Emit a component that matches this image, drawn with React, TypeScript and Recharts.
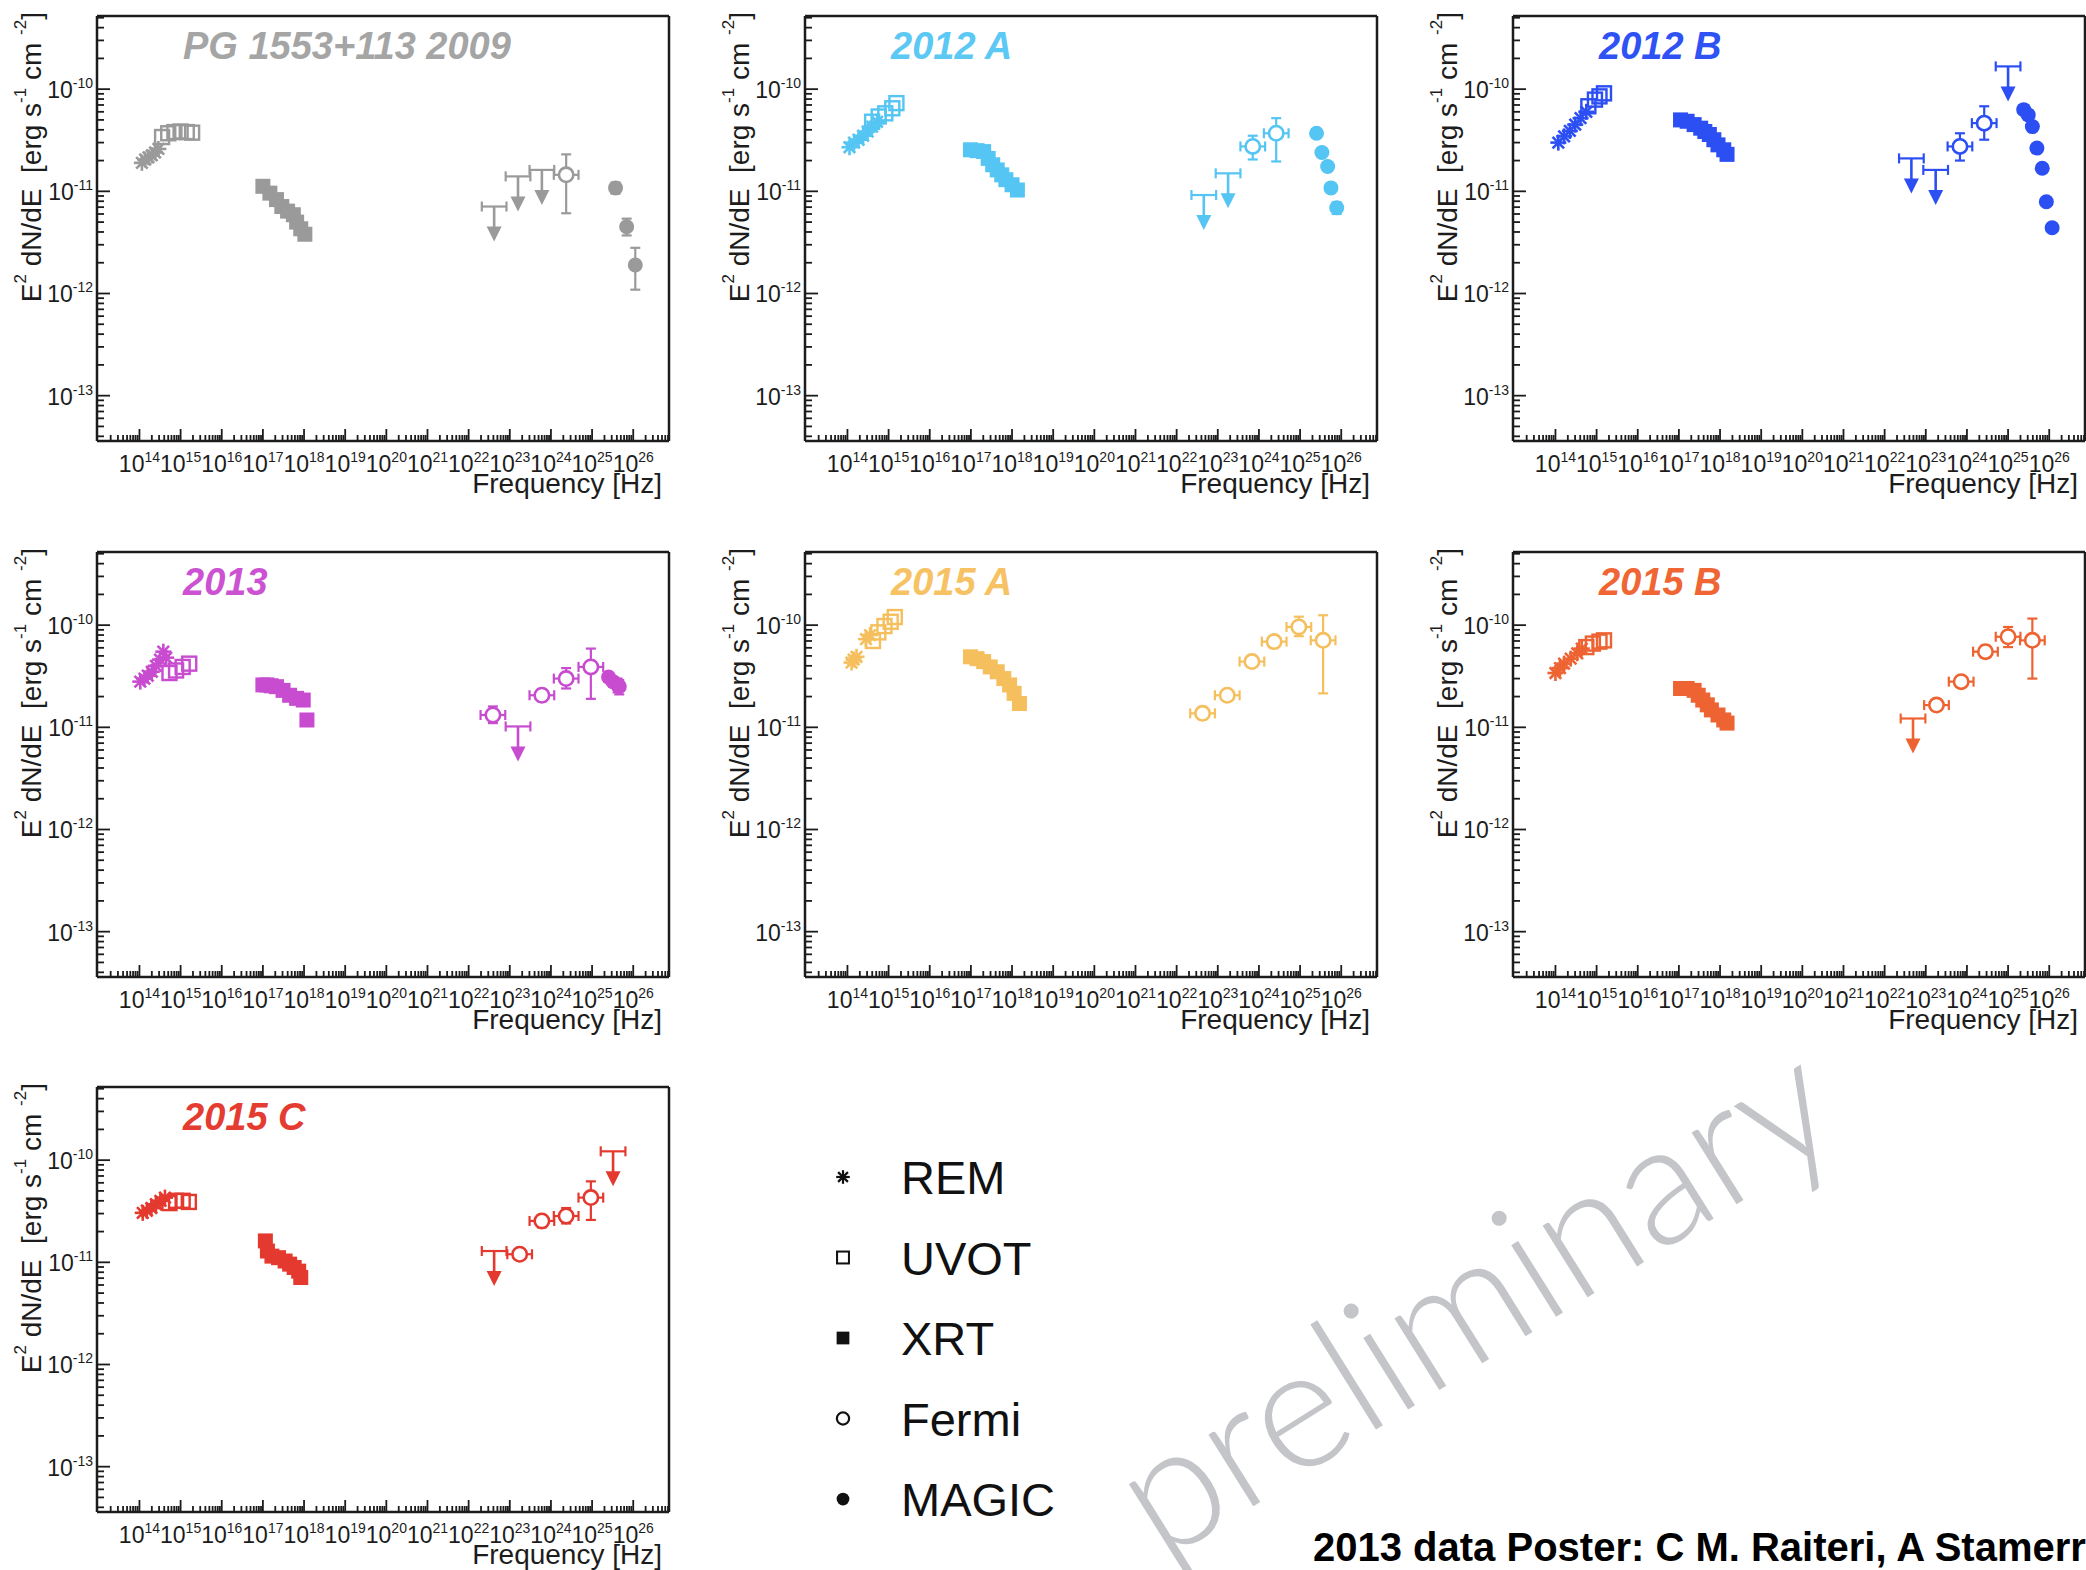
import React from 'react'
import { ScatterChart, Scatter, XAxis, YAxis, ErrorBar } from 'recharts'

// points are [log10(frequency / Hz), E^2 dN/dE]; error points add [lower, upper]
type P = [number, number]
type E = [number, number, number, number]

// ---- PG 1553+113 2009 ----
const rem2009: P[] = [[14.06, 1.9e-11], [14.14, 2.05e-11], [14.22, 2.15e-11], [14.3, 2.25e-11], [14.38, 2.4e-11], [14.46, 2.6e-11]]
const uvot2009: P[] = [[14.55, 3.4e-11], [14.7, 3.7e-11], [14.85, 3.8e-11], [15.0, 3.85e-11], [15.15, 3.8e-11], [15.28, 3.75e-11]]
const xrt2009: P[] = [[17.0, 1.12e-11], [17.17, 9.6e-12], [17.33, 8.3e-12], [17.46, 7.1e-12], [17.6, 6.4e-12], [17.74, 5.9e-12], [17.82, 5.0e-12], [17.92, 4.3e-12], [18.02, 3.8e-12]]
const fermi2009: E[] = [[24.37, 1.45e-11, 6.1e-12, 2.3e-11]]
const fermiUl2009: P[] = [[22.62, 7.1e-12], [23.2, 1.4e-11], [23.78, 1.62e-11]]
const magic2009: E[] = [[25.57, 1.08e-11, 0.95e-11, 1.22e-11], [25.84, 4.5e-12, 3.7e-12, 5.4e-12], [26.05, 1.9e-12, 1.09e-12, 2.8e-12]]

// ---- 2012 A ----
const rem2012a: P[] = [[14.05, 2.7e-11], [14.16, 3.0e-11], [14.27, 3.2e-11], [14.38, 3.5e-11], [14.49, 3.85e-11], [14.6, 4.3e-11], [14.72, 4.8e-11]]
const uvot2012a: P[] = [[14.6, 4.8e-11], [14.76, 5.4e-11], [14.92, 5.8e-11], [15.09, 6.5e-11], [15.19, 7.3e-11]]
const xrt2012a: P[] = [[16.99, 2.55e-11], [17.15, 2.5e-11], [17.31, 2.45e-11], [17.42, 2.1e-11], [17.53, 1.82e-11], [17.64, 1.62e-11], [17.75, 1.45e-11], [17.85, 1.3e-11], [18.0, 1.16e-11], [18.13, 1.03e-11]]
const fermi2012a: E[] = [[23.85, 2.75e-11, 2.05e-11, 3.5e-11], [24.42, 3.7e-11, 1.96e-11, 5.2e-11]]
const fermiUl2012a: P[] = [[22.66, 9.2e-12], [23.25, 1.5e-11]]
const magic2012a: E[] = [[25.4, 3.7e-11, 3.4e-11, 4.0e-11], [25.53, 2.4e-11, 2.2e-11, 2.6e-11], [25.67, 1.75e-11, 1.6e-11, 1.9e-11], [25.75, 1.08e-11, 0.98e-11, 1.18e-11], [25.89, 6.9e-12, 6.0e-12, 7.8e-12]]

// ---- 2012 B ----
const rem2012b: P[] = [[14.07, 3.0e-11], [14.21, 3.45e-11], [14.35, 3.9e-11], [14.48, 4.5e-11], [14.61, 5.2e-11], [14.75, 6.0e-11]]
const uvot2012b: P[] = [[14.8, 6.8e-11], [14.96, 7.9e-11], [15.07, 8.5e-11], [15.18, 9.1e-11]]
const xrt2012b: P[] = [[17.04, 5.0e-11], [17.2, 4.85e-11], [17.37, 4.5e-11], [17.53, 4.15e-11], [17.63, 3.85e-11], [17.74, 3.6e-11], [17.85, 3.2e-11], [17.95, 2.85e-11], [18.09, 2.55e-11], [18.17, 2.3e-11]]
const fermi2012b: E[] = [[23.83, 2.75e-11, 2.0e-11, 3.7e-11], [24.42, 4.65e-11, 3.2e-11, 6.8e-11]]
const fermiUl2012b: P[] = [[22.65, 2.1e-11], [23.24, 1.62e-11]]
const magic2012b: E[] = [[25.38, 6.3e-11, 5.9e-11, 6.7e-11], [25.49, 5.6e-11, 5.3e-11, 5.9e-11], [25.59, 4.3e-11, 4.0e-11, 4.6e-11], [25.7, 2.65e-11, 2.5e-11, 2.8e-11], [25.83, 1.68e-11, 1.58e-11, 1.78e-11], [25.93, 7.9e-12, 7.4e-12, 8.4e-12], [26.07, 4.4e-12, 4.1e-12, 4.7e-12]]
const magicUl2012b: P[] = [[25.0, 1.67e-10]]

// ---- 2013 ----
const rem2013: P[] = [[14.02, 2.8e-11], [14.12, 3.0e-11], [14.2, 3.2e-11], [14.3, 3.5e-11], [14.4, 4.0e-11], [14.5, 4.6e-11], [14.58, 5.5e-11], [14.65, 4.8e-11]]
const uvot2013: P[] = [[14.73, 3.4e-11], [14.89, 3.6e-11], [15.05, 3.9e-11], [15.21, 4.2e-11]]
const xrt2013: P[] = [[17.0, 2.6e-11], [17.1, 2.6e-11], [17.2, 2.55e-11], [17.33, 2.5e-11], [17.49, 2.3e-11], [17.65, 2.06e-11], [17.82, 1.92e-11], [17.98, 1.85e-11], [18.07, 1.18e-11]]
const fermi2013: E[] = [[22.59, 1.32e-11, 1.1e-11, 1.6e-11], [23.78, 2.06e-11, 1.8e-11, 2.35e-11], [24.37, 3.0e-11, 2.4e-11, 3.8e-11], [24.97, 3.9e-11, 1.9e-11, 5.9e-11]]
const fermiUl2013: P[] = [[23.2, 1.02e-11]]
const magic2013: E[] = [[25.4, 3.1e-11, 2.8e-11, 3.4e-11], [25.51, 2.8e-11, 2.5e-11, 3.1e-11], [25.62, 2.6e-11, 2.2e-11, 3.0e-11], [25.66, 2.5e-11, 2.1e-11, 2.9e-11]]

// ---- 2015 A ----
const rem2015a: P[] = [[14.1, 4.3e-11], [14.15, 4.6e-11], [14.22, 4.9e-11], [14.45, 7.3e-11], [14.55, 8.0e-11]]
const uvot2015a: P[] = [[14.62, 7.0e-11], [14.75, 8.5e-11], [14.9, 9.8e-11], [15.05, 1.08e-10], [15.15, 1.2e-10]]
const xrt2015a: P[] = [[16.99, 4.9e-11], [17.15, 4.7e-11], [17.31, 4.4e-11], [17.47, 3.9e-11], [17.64, 3.5e-11], [17.8, 3.0e-11], [17.94, 2.6e-11], [18.05, 2.15e-11], [18.18, 1.71e-11]]
const fermi2015a: E[] = [[22.63, 1.37e-11, 1.2e-11, 1.55e-11], [23.23, 2.06e-11, 1.85e-11, 2.3e-11], [23.83, 4.4e-11, 3.9e-11, 4.9e-11], [24.37, 6.9e-11, 6.1e-11, 7.8e-11], [24.97, 9.6e-11, 7.8e-11, 1.21e-10], [25.56, 7.1e-11, 2.15e-11, 1.25e-10]]

// ---- 2015 B ----
const rem2015b: P[] = [[14.0, 3.4e-11], [14.11, 3.8e-11], [14.21, 4.2e-11], [14.37, 4.7e-11], [14.53, 5.3e-11], [14.64, 5.9e-11]]
const uvot2015b: P[] = [[14.75, 6.1e-11], [14.91, 6.6e-11], [15.07, 6.9e-11], [15.18, 7.1e-11]]
const xrt2015b: P[] = [[17.04, 2.4e-11], [17.2, 2.4e-11], [17.37, 2.3e-11], [17.47, 2.06e-11], [17.58, 1.85e-11], [17.69, 1.66e-11], [17.79, 1.48e-11], [17.95, 1.32e-11], [18.09, 1.18e-11], [18.17, 1.1e-11]]
const fermi2015b: E[] = [[23.26, 1.65e-11, 1.5e-11, 1.8e-11], [23.86, 2.8e-11, 2.5e-11, 3.1e-11], [24.45, 5.5e-11, 4.8e-11, 6.3e-11], [25.0, 7.7e-11, 6.1e-11, 9.6e-11], [25.59, 7.1e-11, 3.0e-11, 1.16e-10]]
const fermiUl2015b: P[] = [[22.69, 1.22e-11]]

// ---- 2015 C ----
const rem2015c: P[] = [[14.08, 3.05e-11], [14.18, 3.2e-11], [14.29, 3.4e-11], [14.4, 3.7e-11], [14.51, 4.0e-11], [14.62, 4.3e-11]]
const uvot2015c: P[] = [[14.73, 3.8e-11], [14.89, 4.0e-11], [15.05, 4.0e-11], [15.2, 3.9e-11]]
const xrt2015c: P[] = [[17.06, 1.62e-11], [17.11, 1.29e-11], [17.22, 1.15e-11], [17.38, 1.11e-11], [17.54, 1.03e-11], [17.65, 9.6e-12], [17.76, 8.9e-12], [17.87, 8.2e-12], [17.92, 7.1e-12]]
const fermi2015c: E[] = [[23.24, 1.2e-11, 1.1e-11, 1.3e-11], [23.78, 2.54e-11, 2.2e-11, 2.9e-11], [24.37, 2.84e-11, 2.4e-11, 3.4e-11], [24.97, 4.3e-11, 2.6e-11, 6.2e-11]]
const fermiUl2015c: P[] = [[22.62, 1.29e-11]]
const magicUl2015c: P[] = [[25.51, 1.22e-10]]

const titles = ['PG 1553+113 2009', '2012 A', '2012 B', '2013', '2015 A', '2015 B', '2015 C']
const markerColors = ['#9a9a9a', '#55c5f3', '#2c4ff4', '#c84ccf', '#f6bf5e', '#ee6332', '#e4392f']
const titleColors = ['#a5a5a5', '#5cc8f4', '#2f52f4', '#cc52d2', '#f7c263', '#ef6634', '#e53c31']
const legendNames = ['REM', 'UVOT', 'XRT', 'Fermi', 'MAGIC']

const X_DOMAIN = [9.3e12, 7.4e26]
const Y_DOMAIN = [3.6e-14, 5.2e-10]

const INK = '#1c1c1c'
const FONT = "'Liberation Sans', Arial, Helvetica, sans-serif"
const BIN = 0.3 // half width of a gamma-ray bin, decades
const AXIS_W = 90
const AXIS_H = 60
const PLOT_W = 572
const PLOT_H = 425

const minorTicks = (from: number, to: number, lo: number, hi: number) => {
  const out: number[] = []
  for (let d = from; d <= to; d++) {
    for (let m = 1; m <= 9; m++) {
      const v = m * 10 ** d
      if (v >= lo && v <= hi && (m > 1 || d > from)) out.push(v)
    }
  }
  return out
}
const X_TICKS = minorTicks(13, 26, X_DOMAIN[0], X_DOMAIN[1])
const Y_TICKS = minorTicks(-14, -10, Y_DOMAIN[0], Y_DOMAIN[1])

const pts = (a: P[]) => a.map(([l, f]) => ({ x: 10 ** l, y: f }))
const bin = (l: number) => [10 ** l - 10 ** (l - BIN), 10 ** (l + BIN) - 10 ** l]
const errPts = (a: E[], withBin: boolean) =>
  a.map(([l, f, lo, hi]) => ({ x: 10 ** l, y: f, ey: [f - lo, hi - f], ex: withBin ? bin(l) : undefined }))
const limPts = (a: P[]) => a.map(([l, f]) => ({ x: 10 ** l, y: f, ex: bin(l) }))

interface PanelData {
  rem: P[]
  uvot: P[]
  xrt: P[]
  fermi: E[]
  fermiUl: P[]
  magic: E[]
  magicUl: P[]
}

const panelData: PanelData[] = [
  { rem: rem2009, uvot: uvot2009, xrt: xrt2009, fermi: fermi2009, fermiUl: fermiUl2009, magic: magic2009, magicUl: [] },
  { rem: rem2012a, uvot: uvot2012a, xrt: xrt2012a, fermi: fermi2012a, fermiUl: fermiUl2012a, magic: magic2012a, magicUl: [] },
  { rem: rem2012b, uvot: uvot2012b, xrt: xrt2012b, fermi: fermi2012b, fermiUl: fermiUl2012b, magic: magic2012b, magicUl: magicUl2012b },
  { rem: rem2013, uvot: uvot2013, xrt: xrt2013, fermi: fermi2013, fermiUl: fermiUl2013, magic: magic2013, magicUl: [] },
  { rem: rem2015a, uvot: uvot2015a, xrt: xrt2015a, fermi: fermi2015a, fermiUl: [], magic: [], magicUl: [] },
  { rem: rem2015b, uvot: uvot2015b, xrt: xrt2015b, fermi: fermi2015b, fermiUl: fermiUl2015b, magic: [], magicUl: [] },
  { rem: rem2015c, uvot: uvot2015c, xrt: xrt2015c, fermi: fermi2015c, fermiUl: fermiUl2015c, magic: [], magicUl: magicUl2015c },
]

// plot-frame corners on the page
const COLS = [97, 805, 1513]
const ROWS = [16, 552, 1087]

type Kind = 'star' | 'openSquare' | 'square' | 'openCircle' | 'circle' | 'limit'

function Marker({ kind, cx, cy, color, s = 1 }: { kind: Kind; cx: number; cy: number; color: string; s?: number }) {
  if (cx == null || cy == null) return <g />
  switch (kind) {
    case 'star': {
      const r = 8 * s
      const d = r * 0.72
      return (
        <g stroke={color} strokeWidth={2.6 * s}>
          <line x1={cx - r} y1={cy} x2={cx + r} y2={cy} />
          <line x1={cx} y1={cy - r} x2={cx} y2={cy + r} />
          <line x1={cx - d} y1={cy - d} x2={cx + d} y2={cy + d} />
          <line x1={cx - d} y1={cy + d} x2={cx + d} y2={cy - d} />
        </g>
      )
    }
    case 'openSquare':
      return <rect x={cx - 7 * s} y={cy - 7 * s} width={14 * s} height={14 * s} fill="none" stroke={color} strokeWidth={2.4 * s} />
    case 'square':
      return <rect x={cx - 7.5 * s} y={cy - 7.5 * s} width={15 * s} height={15 * s} fill={color} />
    case 'openCircle':
      return <circle cx={cx} cy={cy} r={7.2 * s} fill="#fff" stroke={color} strokeWidth={2.6 * s} />
    case 'circle':
      return <circle cx={cx} cy={cy} r={7.5 * s} fill={color} />
    default:
      return (
        <g>
          <line x1={cx} y1={cy} x2={cx} y2={cy + 22} stroke={color} strokeWidth={2.6} />
          <path d={`M${cx - 7.5},${cy + 20} L${cx + 7.5},${cy + 20} L${cx},${cy + 35} Z`} fill={color} />
        </g>
      )
  }
}

const decade = (v: number) => {
  const e = Math.log10(v)
  const n = Math.round(e)
  return { n, major: Math.abs(e - n) < 1e-6 }
}

function XTick(props: any) {
  const { x, y, payload } = props
  const { n, major } = decade(payload.value)
  return (
    <g>
      <line x1={x} x2={x} y1={y} y2={y - (major ? 12 : 6)} stroke={INK} strokeWidth={1.8} />
      {major && n > 13 && (
        <text x={x} y={y + 31} textAnchor="middle" fontFamily={FONT} fontSize={23} fill={INK}>
          10<tspan dy={-10} fontSize={14}>{n}</tspan>
        </text>
      )}
    </g>
  )
}

function YTick(props: any) {
  const { x, y, payload } = props
  const { n, major } = decade(payload.value)
  return (
    <g>
      <line x1={x} x2={x + (major ? 13 : 7)} y1={y} y2={y} stroke={INK} strokeWidth={1.8} />
      {major && (
        <text x={x - 4} y={y + 9} textAnchor="end" fontFamily={FONT} fontSize={23} fill={INK}>
          10<tspan dy={-10} fontSize={14}>{n}</tspan>
        </text>
      )}
    </g>
  )
}

const frame = { stroke: INK, strokeWidth: 2.5 }

function SedPanel({ idx }: { idx: number }) {
  const d = panelData[idx]
  const c = markerColors[idx]
  const left = COLS[idx % 3]
  const top = ROWS[Math.floor(idx / 3)]
  const shape = (kind: Kind) => (p: any) => <Marker kind={kind} cx={p.cx} cy={p.cy} color={c} />
  const bar = { stroke: c, strokeWidth: 2.2, width: 5, isAnimationActive: false }
  return (
    <div style={{ position: 'absolute', left: left - AXIS_W, top: top - 3 }}>
      <ScatterChart
        width={AXIS_W + PLOT_W + 3}
        height={3 + PLOT_H + AXIS_H}
        margin={{ top: 2, right: 2, bottom: 0, left: 0 }}
      >
        <XAxis
          xAxisId="x"
          type="number"
          dataKey="x"
          scale="log"
          domain={X_DOMAIN}
          allowDataOverflow
          ticks={X_TICKS}
          interval={0}
          tick={(p: any) => <XTick {...p} />}
          tickLine={false}
          tickSize={0}
          tickMargin={0}
          height={AXIS_H}
          axisLine={frame}
        />
        <XAxis
          xAxisId="top"
          orientation="top"
          type="number"
          scale="log"
          domain={X_DOMAIN}
          allowDataOverflow
          ticks={X_DOMAIN}
          tick={false}
          tickLine={false}
          height={1}
          axisLine={frame}
        />
        <YAxis
          yAxisId="y"
          type="number"
          dataKey="y"
          scale="log"
          domain={Y_DOMAIN}
          allowDataOverflow
          ticks={Y_TICKS}
          interval={0}
          tick={(p: any) => <YTick {...p} />}
          tickLine={false}
          tickSize={0}
          tickMargin={0}
          width={AXIS_W}
          axisLine={frame}
        />
        <YAxis
          yAxisId="right"
          orientation="right"
          type="number"
          scale="log"
          domain={Y_DOMAIN}
          allowDataOverflow
          ticks={Y_DOMAIN}
          tick={false}
          tickLine={false}
          width={1}
          axisLine={frame}
        />
        <Scatter xAxisId="x" yAxisId="y" data={pts(d.rem)} shape={shape('star')} isAnimationActive={false} />
        <Scatter xAxisId="x" yAxisId="y" data={pts(d.uvot)} shape={shape('openSquare')} isAnimationActive={false} />
        <Scatter xAxisId="x" yAxisId="y" data={pts(d.xrt)} shape={shape('square')} isAnimationActive={false} />
        <Scatter xAxisId="x" yAxisId="y" data={errPts(d.fermi, true)} shape={shape('openCircle')} isAnimationActive={false}>
          <ErrorBar dataKey="ex" direction="x" {...bar} />
          <ErrorBar dataKey="ey" direction="y" {...bar} />
        </Scatter>
        <Scatter xAxisId="x" yAxisId="y" data={limPts(d.fermiUl)} shape={shape('limit')} isAnimationActive={false}>
          <ErrorBar dataKey="ex" direction="x" {...bar} />
        </Scatter>
        <Scatter xAxisId="x" yAxisId="y" data={errPts(d.magic, false)} shape={shape('circle')} isAnimationActive={false}>
          <ErrorBar dataKey="ey" direction="y" {...bar} />
        </Scatter>
        <Scatter xAxisId="x" yAxisId="y" data={limPts(d.magicUl)} shape={shape('limit')} isAnimationActive={false}>
          <ErrorBar dataKey="ex" direction="x" {...bar} />
        </Scatter>
      </ScatterChart>
    </div>
  )
}

function PanelTexts({ idx }: { idx: number }) {
  const left = COLS[idx % 3]
  const top = ROWS[Math.floor(idx / 3)]
  return (
    <g fontFamily={FONT}>
      <text x={left + 86} y={top + 43} fontSize={38} fontWeight="bold" fontStyle="italic" fill={titleColors[idx]}>
        {titles[idx]}
      </text>
      <text
        transform={`translate(${left - 66},${top - 4}) rotate(-90)`}
        textAnchor="end"
        dominantBaseline="central"
        fontSize={28}
        fill={INK}
        style={{ whiteSpace: 'pre' }}
      >
        E<tspan dy={-11} fontSize={17}>2</tspan>
        <tspan dy={11}> dN/dE  [erg s</tspan>
        <tspan dy={-11} fontSize={17}>-1</tspan>
        <tspan dy={11}> cm </tspan>
        <tspan dy={-11} fontSize={17}>-2</tspan>
        <tspan dy={11}>]</tspan>
      </text>
      <text x={left + PLOT_W - 7} y={top + PLOT_H + 52} textAnchor="end" fontSize={28} fill={INK}>
        Frequency [Hz]
      </text>
    </g>
  )
}

const legendKinds: Kind[] = ['star', 'openSquare', 'square', 'openCircle', 'circle']

export default function App() {
  return (
    <div style={{ position: 'absolute', left: 0, top: 0, width: 2086, height: 1570, overflow: 'hidden', background: '#fff' }}>
      {titles.map((_, i) => (
        <SedPanel key={i} idx={i} />
      ))}
      <svg width={2086} height={1570} style={{ position: 'absolute', left: 0, top: 0, pointerEvents: 'none' }}>
        <text
          x={1470}
          y={1293}
          transform="rotate(-32 1470 1293)"
          textAnchor="middle"
          dominantBaseline="central"
          fontFamily="Lato, 'Open Sans', sans-serif"
          fontWeight={300}
          fontSize={170}
          fill="#c3c5c9"
        >
          preliminary
        </text>
        {titles.map((_, i) => (
          <PanelTexts key={i} idx={i} />
        ))}
        {legendNames.map((name, i) => {
          const cy = 1177 + i * 80.5
          return (
            <g key={name}>
              <Marker kind={legendKinds[i]} cx={843} cy={cy} color="#111" s={0.85} />
              <text x={901} y={cy + 17} fontFamily={FONT} fontSize={47} fill="#111">
                {name}
              </text>
            </g>
          )
        })}
        <text x={1313} y={1561} fontFamily={FONT} fontSize={40} fontWeight="bold" fill="#000">
          2013 data Poster: C M. Raiteri, A Stamerra
        </text>
      </svg>
    </div>
  )
}
